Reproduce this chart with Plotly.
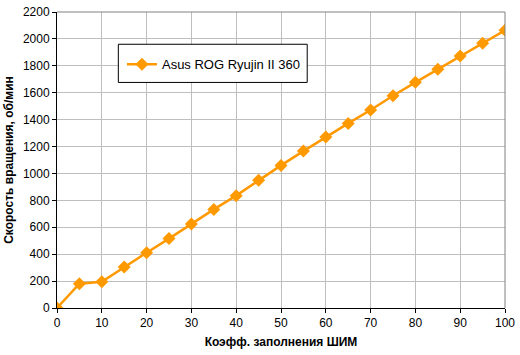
import plotly.graph_objects as go

pwm = [0, 5, 10, 15, 20, 25, 30, 35, 40, 45, 50, 55, 60, 65, 70, 75, 80, 85, 90, 95, 100]
rpm = [0, 181, 195, 305, 411, 516, 625, 733, 835, 950, 1060, 1166, 1271, 1372, 1472, 1578, 1677, 1774, 1873, 1968, 2064]
series_name = "Asus ROG Ryujin II 360"
x_title = "Коэфф. заполнения ШИМ"
y_title = "Скорость вращения, об/мин"

color = "#FF9900"
font = "Liberation Sans, Arial, sans-serif"

fig = go.Figure()
fig.add_trace(go.Scatter(
    x=pwm, y=rpm, mode="lines+markers", name=series_name,
    line=dict(color=color, width=2.5),
    marker=dict(symbol="diamond", size=10, color=color),
))

fig.update_layout(
    width=520, height=355,
    margin=dict(l=57, r=10, t=5, b=47),
    paper_bgcolor="white", plot_bgcolor="white",
    font=dict(family=font, size=12, color="black"),
    showlegend=True,
    legend=dict(x=0.145, y=0.8235, xanchor="left", yanchor="middle",
                bgcolor="rgba(0,0,0,0)", borderwidth=0,
                font=dict(size=13, family=font), itemwidth=30,
                tracegroupgap=0),
    xaxis=dict(range=[0, 100], dtick=10, tick0=0,
               showgrid=True, gridcolor="#BEBEBE", gridwidth=1,
               showline=True, linecolor="black", linewidth=1,
               ticks="outside", ticklen=4, tickcolor="black",
               mirror=False, zeroline=False, ticklabeloverflow="allow",
               title=dict(text="<b>" + x_title + "</b>", font=dict(size=12), standoff=8)),
    yaxis=dict(range=[0, 2200], dtick=200, tick0=0,
               showgrid=True, gridcolor="#BEBEBE", gridwidth=1,
               showline=True, linecolor="black", linewidth=1,
               ticks="outside", ticklen=4, tickcolor="black",
               zeroline=False, ticklabeloverflow="allow",
               title=dict(text="<b>" + y_title + "</b>", font=dict(size=12), standoff=6)),
    shapes=[dict(type="line", xref="paper", yref="paper", x0=0, x1=1, y0=1, y1=1,
                 line=dict(color="#808080", width=1)),
            dict(type="line", xref="paper", yref="paper", x0=1, x1=1, y0=0, y1=1,
                 line=dict(color="#808080", width=1)),
            dict(type="rect", xref="paper", yref="paper", x0=0.1369, x1=0.5585,
                 y0=0.762, y1=0.891, fillcolor="white",
                 line=dict(color="black", width=1), layer="above")],
)

fig.write_html("out.html")
